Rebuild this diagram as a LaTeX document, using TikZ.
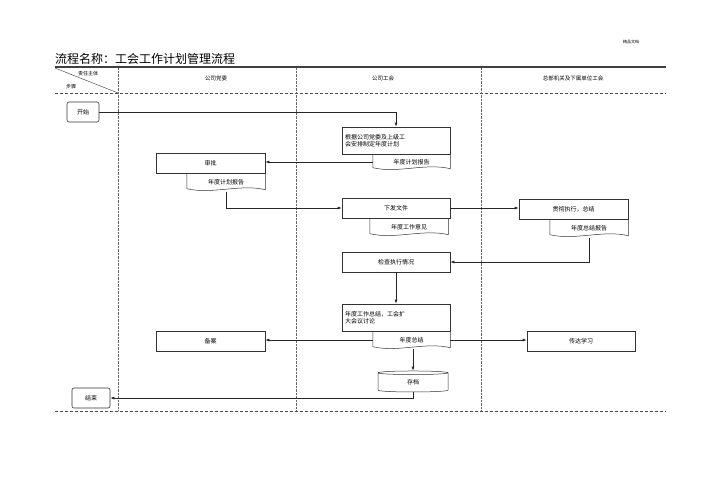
\documentclass[tikz,border=0pt]{standalone}
\usepackage{fontspec}
\newfontfamily\cjk{Noto Sans CJK SC}
\usetikzlibrary{calc, shapes.geometric, arrows.meta, positioning}
\tikzset{
  box/.style={draw=black!80, line width=0.6pt, inner sep=2pt, font=\cjk\fontsize{6}{7}\selectfont},
  docbox/.style={inner sep=2pt, font=\cjk\fontsize{6}{7}\selectfont},
  term/.style={box, rounded corners=2pt},
  flow/.style={-{Latex[length=4pt,width=3pt]}, line width=0.6pt, black!85},
  lane/.style={densely dotted, black!60, line width=0.4pt},
}
\newcommand{\wavedoc}[1]{%
  \draw[black!80, line width=0.5pt] (#1.north west) -- ($(#1.south west)+(0,-2)$)
    .. controls +(25,6) and +(-25,-6) .. ($(#1.south east)+(0,-1)$) -- (#1.north east);}
\begin{document}
\begin{tikzpicture}[x=1pt, y=-1pt]
  \useasboundingbox (0,0) rectangle (708,500);
  % header
  \node[font=\cjk\fontsize{4}{5}\selectfont] at (631,42) {精品文档};
  \node[anchor=west, font=\cjk\fontsize{12}{14}\selectfont, inner sep=0] at (55,59) {流程名称：工会工作计划管理流程};
  \draw[line width=1.3pt, black!75] (55,67) -- (666,67);
  \draw[black!80] (55,68) -- (118,93);
  \node[font=\cjk\fontsize{5}{6}\selectfont] at (88,74) {责任主体};
  \node[font=\cjk\fontsize{5}{6}\selectfont] at (71,87) {步骤};
  \node[font=\cjk\fontsize{5.5}{6}\selectfont] at (216,78) {公司党委};
  \node[font=\cjk\fontsize{5.5}{6}\selectfont] at (383,78) {公司工会};
  \node[font=\cjk\fontsize{5.5}{6}\selectfont] at (573,78) {总部机关及下属单位工会};
  \draw[densely dashed, line width=0.8pt, black!70] (55,93) -- (666,93);
  \draw[densely dashed, line width=0.8pt, black!70] (55,411) -- (666,411);
  \foreach \lx in {118,296,481}
    \draw[lane] (\lx,68) -- (\lx,411);

  % nodes
  \node[term, minimum width=32, minimum height=20] (start) at (83,112) {开始};
  \node[box, minimum width=108, minimum height=27, align=left, text width=102] (plan) at (396,140.5) {根据公司党委及上级工\\会安排制定年度计划};
  \node[docbox, minimum width=77, minimum height=15, anchor=north east] (planrep) at (plan.south east) {年度计划报告};
  \node[box, minimum width=109, minimum height=20] (approve) at (210.5,163) {审批};
  \node[docbox, minimum width=78, minimum height=17, anchor=north east] (apprep) at (approve.south east) {年度计划报告};
  \node[box, minimum width=108, minimum height=20] (issue) at (396,208) {下发文件};
  \node[docbox, minimum width=78, minimum height=17, anchor=north east] (opinion) at ($(issue.south east)+(-2,0)$) {年度工作意见};
  \node[box, minimum width=109, minimum height=20] (exec) at (573.5,209) {贯彻执行，总结};
  \node[docbox, minimum width=78, minimum height=17, anchor=north east] (execrep) at (exec.south east) {年度总结报告};
  \node[box, minimum width=108, minimum height=20] (check) at (396,262) {检查执行情况};
  \node[box, minimum width=108, minimum height=27, align=left, text width=102] (summ) at (396,317.5) {年度工作总结，工会扩\\大会议讨论};
  \node[docbox, minimum width=77, minimum height=17, anchor=north east] (summdoc) at (summ.south east) {年度总结};
  \node[box, minimum width=109, minimum height=20] (record) at (210.5,341) {备案};
  \node[box, minimum width=108, minimum height=20] (spread) at (581,341) {传达学习};
  \node[cylinder, shape border rotate=90, aspect=0.3, draw=black!80, line width=0.5pt, minimum width=70, minimum height=21, inner sep=0, font=\cjk\fontsize{6}{7}\selectfont] (archive) at (413,382.5) {存档};
  \node[term, minimum width=38, minimum height=20] (finish) at (91,398) {结束};
  \foreach \d in {planrep,apprep,opinion,execrep,summdoc}{\wavedoc{\d}}

  % connectors
  \draw[flow] (start.east) -| (plan.north);
  \draw[flow] (planrep.west) -- (approve.east |- planrep.west);
  \draw[flow] ($(apprep.south)+(0,1)$) |- (issue.west);
  \draw[flow] (issue.east) -- (exec.west |- issue.east);
  \draw[flow] ($(execrep.south)+(0,1)$) |- (check.east);
  \draw[flow] (check.south) -- (summ.north);
  \draw[flow] (summdoc.west) -- (record.east |- summdoc.west);
  \draw[flow] (summdoc.east) -- (spread.west |- summdoc.east);
  \draw[flow] (summdoc.south -| archive.north) -- (archive.north);
  \draw[flow] (archive.south) |- (finish.east);
\end{tikzpicture}
\end{document}
